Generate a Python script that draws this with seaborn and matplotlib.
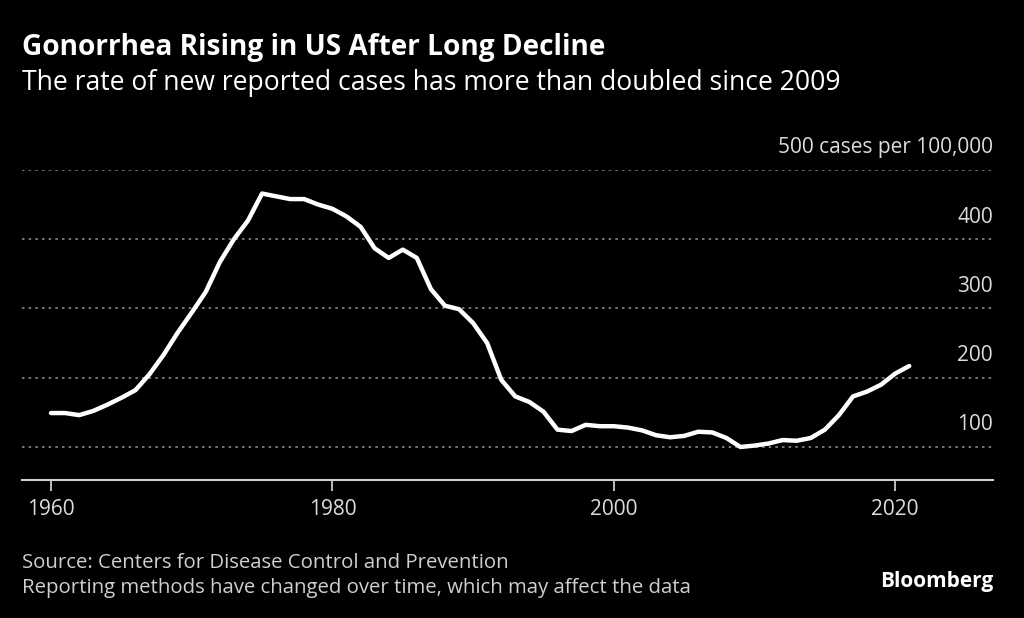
import matplotlib
matplotlib.use("Agg")
import matplotlib.pyplot as plt
import seaborn as sns
import pandas as pd

years = list(range(1960, 2022))
rates = [149, 149, 146, 152, 161, 171, 182, 205, 233, 265, 294, 324, 367, 400, 427,
         466, 462, 458, 458, 450, 444, 433, 418, 387, 373, 385, 373, 328, 304, 299,
         279, 250, 197, 173, 165, 151, 125, 123, 132, 130, 130, 128, 124, 117, 114,
         116, 122, 121, 113, 100, 102, 105, 110, 109, 113, 125, 146, 173, 180, 190,
         206, 217]
ytick_vals = [100, 200, 300, 400, 500]
ytick_labels = ["100", "200", "300", "400", "500 cases per 100,000"]
xtick_vals = [1960, 1980, 2000, 2020]

title = "Gonorrhea Rising in US After Long Decline"
subtitle = "The rate of new reported cases has more than doubled since 2009"
source = "Source: Centers for Disease Control and Prevention"
note = "Reporting methods have changed over time, which may affect the data"

sns.set_theme(style="dark")
fonts = ["Liberation Sans Narrow", "DejaVu Sans Condensed", "Open Sans", "DejaVu Sans"]
plt.rcParams["font.family"] = fonts

bg = "#000000"
fig = plt.figure(figsize=(10.24, 6.18), dpi=100, facecolor=bg)
ax = fig.add_axes([22/1024, 1-480/618, 971/1024, 310/618])
ax.set_facecolor(bg)

df = pd.DataFrame({"year": years, "rate": rates})
sns.lineplot(data=df, x="year", y="rate", ax=ax, color="white", linewidth=3.2)

ax.set_xlim(1957.94, 2026.95)
ax.set_ylim(52.3, 500)
ax.set_xlabel("")
ax.set_ylabel("")
ax.grid(False)
for v in ytick_vals:
    ax.axhline(v, color="#8a8a8a", linewidth=1.2, linestyle=(0, (1.5, 2.5)), zorder=0)
for v, lab in zip(ytick_vals, ytick_labels):
    ax.annotate(lab, xy=(1.0, v), xycoords=("axes fraction", "data"),
                xytext=(0, 16), textcoords="offset points",
                ha="right", va="center", color="#dcdcdc", fontsize=15)

ax.set_yticks([])
ax.set_xticks(xtick_vals)
ax.set_xticklabels([str(v) for v in xtick_vals])
ax.tick_params(axis="x", colors="#dcdcdc", labelsize=15, length=8, width=1.2,
               direction="out", pad=6, bottom=True)
for s in ["top", "right", "left"]:
    ax.spines[s].set_visible(False)
ax.spines["bottom"].set_color("#d0d0d0")
ax.spines["bottom"].set_linewidth(1.5)

fig.text(22/1024, 1-48/618, title, color="white", fontsize=20.2, fontweight="bold",
         ha="left", va="center")
fig.text(22/1024, 1-83/618, subtitle, color="white", fontsize=19.1,
         ha="left", va="center")
fig.text(22/1024, 1-563/618, source, color="#cfcfcf", fontsize=14.7, ha="left", va="center")
fig.text(22/1024, 1-588/618, note, color="#cfcfcf", fontsize=14.7, ha="left", va="center")
fig.text(993/1024, 1-581/618, "Bloomberg", color="white", fontsize=15, fontweight="bold",
         ha="right", va="center")

fig.savefig("out.png", dpi=100, facecolor=bg)
